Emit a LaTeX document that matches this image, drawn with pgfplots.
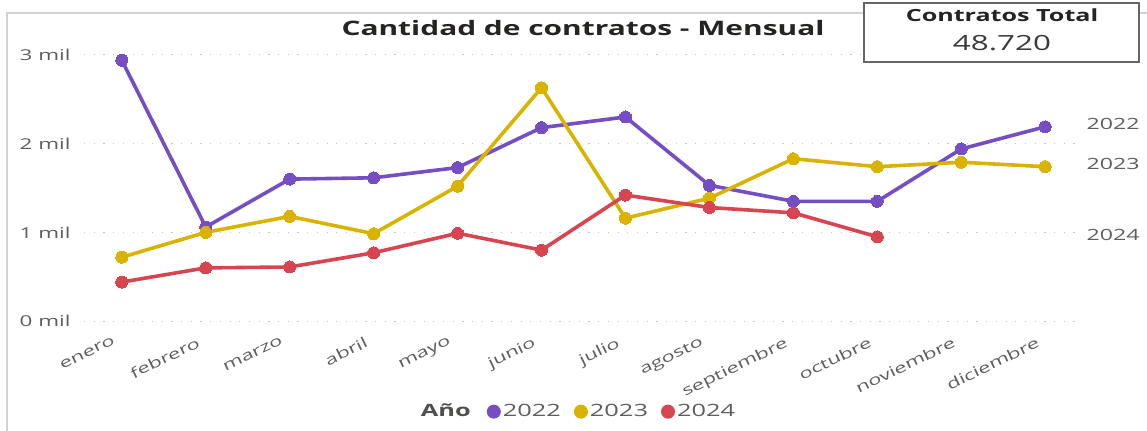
\documentclass[border=0pt]{standalone}
\usepackage{pgfplots}
\pgfplotsset{compat=1.18}
\usepackage{fontspec}
\setmainfont[FakeStretch=1.5]{Open Sans}
\definecolor{c22}{HTML}{744EC2}
\definecolor{c23}{HTML}{D9B300}
\definecolor{c24}{HTML}{D64550}
\definecolor{tick}{HTML}{605E5C}
\definecolor{ttl}{HTML}{252423}
\begin{document}
\begin{tikzpicture}
\useasboundingbox (0,0) rectangle (1147bp,431bp);
\fill[white] (0,0) rectangle (1147bp,431bp);
\draw[gray!35, line width=1.2bp] (7bp,0) -- (7bp,418bp) -- (1147bp,418bp);
\begin{axis}[
  at={(84bp,101bp)}, anchor=south west,
  scale only axis, width=999bp, height=284bp,
  xmin=-0.45, xmax=11.45, ymin=-0.1, ymax=3.1,
  axis line style={draw=none}, tick style={draw=none},
  ytick={0,1,2,3},
  yticklabels={0 mil,1 mil,2 mil,3 mil},
  yticklabel style={font=\fontsize{15}{17}\selectfont, text=tick, anchor=east, xshift=-10bp},
  xtick={0,...,11},
  xticklabels={enero,febrero,marzo,abril,mayo,junio,julio,agosto,septiembre,octubre,noviembre,diciembre},
  xticklabel style={font=\fontsize{14.5}{17}\selectfont, text=tick, rotate=26, anchor=north east, xshift=-8bp, yshift=2bp},
  ymajorgrids, grid style={gray!45, line width=1.2bp, dash pattern=on 1.2bp off 8.5bp},
  clip=false,
  every axis plot/.append style={line width=3.6bp, mark=*, mark size=6bp, line join=round},
]
\addplot[c22, mark options={fill=c22, draw=c22, line width=0}] coordinates {
(0,2.94) (1,1.06) (2,1.60) (3,1.615) (4,1.73) (5,2.18) (6,2.30) (7,1.53) (8,1.35) (9,1.35) (10,1.94) (11,2.19)};
\addplot[c23, mark options={fill=c23, draw=c23, line width=0}] coordinates {
(0,0.72) (1,1.00) (2,1.18) (3,0.985) (4,1.52) (5,2.63) (6,1.16) (7,1.385) (8,1.83) (9,1.74) (10,1.79) (11,1.74)};
\addplot[c24, mark options={fill=c24, draw=c24, line width=0}] coordinates {
(0,0.44) (1,0.60) (2,0.61) (3,0.77) (4,0.99) (5,0.80) (6,1.42) (7,1.28) (8,1.22) (9,0.95)};
\node[anchor=west, text=tick, font=\fontsize{15.5}{17}\selectfont] at (axis cs:11.45,2.22) {2022};
\node[anchor=west, text=tick, font=\fontsize{15.5}{17}\selectfont] at (axis cs:11.45,1.77) {2023};
\node[anchor=west, text=tick, font=\fontsize{15.5}{17}\selectfont] at (axis cs:11.45,0.97) {2024};
\end{axis}
\node[font=\bfseries\fontsize{20}{22}\selectfont, text=ttl] at (583bp,403bp) {Cantidad de contratos - Mensual};
\draw[fill=white, draw=gray!80!black, line width=1.5bp] (864bp,369bp) rectangle (1139bp,428bp);
\node[font=\bfseries\fontsize{16.8}{18}\selectfont, text=ttl] at (1002bp,416bp) {Contratos Total};
\node[font=\fontsize{21}{24}\selectfont, text=ttl!90] at (1002bp,388bp) {48.720};
\node[font=\fontsize{17}{19}\selectfont, text=tick] at (578bp,20bp) {\textbf{\textcolor{ttl!80}{Año}}\hspace{16bp}\tikz[baseline=-4.5bp]\fill[c22] circle (7bp);\hspace{2bp}2022\hspace{13bp}\tikz[baseline=-4.5bp]\fill[c23] circle (7bp);\hspace{2bp}2023\hspace{13bp}\tikz[baseline=-4.5bp]\fill[c24] circle (7bp);\hspace{2bp}2024};
\end{tikzpicture}
\end{document}
